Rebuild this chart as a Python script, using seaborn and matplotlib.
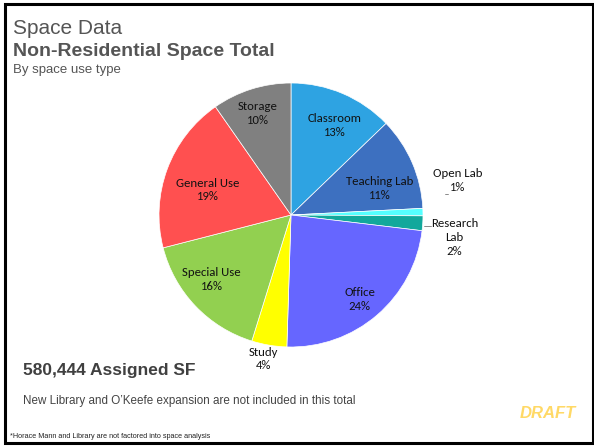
import matplotlib
matplotlib.use("Agg")
import matplotlib.pyplot as plt
import seaborn as sns
from matplotlib.patches import Rectangle

sns.set_theme(style="white")
plt.rcParams['font.family'] = ['Liberation Sans', 'DejaVu Sans']

# data (share of assigned SF, %)
categories = ["Classroom", "Teaching Lab", "Open Lab", "Research\nLab", "Office",
              "Study", "Special Use", "General Use", "Storage"]
shares = [12.8, 11.4, 0.9, 1.8, 23.6, 4.3, 16.2, 19.3, 9.7]
pct_labels = ["13%", "11%", "1%", "2%", "24%", "4%", "16%", "19%", "10%"]
colors = ["#2ea3e2", "#3d70c0", "#55ffff", "#12a89c", "#6666ff",
          "#ffff00", "#92d050", "#ff5050", "#808080"]

fig = plt.figure(figsize=(5.94, 4.46), dpi=100)
fig.patch.set_facecolor("white")

# frame
fig.add_artist(Rectangle((0.008, 0.006), 0.99, 0.984, transform=fig.transFigure,
                         fill=False, edgecolor="black", linewidth=2.2))

ax = fig.add_axes([(291 - 132) / 594, (446 - 215 - 132) / 446, 264 / 594, 264 / 446])
wedges, _ = ax.pie(shares, colors=colors, startangle=90, counterclock=False,
                   wedgeprops=dict(edgecolor="white", linewidth=0.5))
ax.set_aspect("equal")

# label positions (in data units, radius = 1)
label_pos = {
    "Classroom": (0.33, 0.68),
    "Teaching Lab": (0.67, 0.20),
    "Open Lab": (1.26, 0.26),
    "Research\nLab": (1.24, -0.17),
    "Office": (0.52, -0.64),
    "Study": (-0.21, -1.09),
    "Special Use": (-0.60, -0.49),
    "General Use": (-0.63, 0.19),
    "Storage": (-0.25, 0.77),
}
for cat, pct in zip(categories, pct_labels):
    x, y = label_pos[cat]
    ax.text(x, y, f"{cat}\n{pct}", ha="center", va="center", fontsize=9.2,
            family=['Carlito', 'Liberation Sans', 'DejaVu Sans'], color="#111111",
            linespacing=1.3)

# small leader lines for the thin slices
ax.plot([1.165, 1.19], [0.16, 0.16], color="#777777", lw=0.6, clip_on=False)
ax.plot([1.005, 1.06], [-0.083, -0.083], color="#777777", lw=0.6, clip_on=False)
ax.set_xlim(-1.0, 1.0)
ax.set_ylim(-1.0, 1.0)
ax.axis("off")

gray = "#555555"
fig.text(13 / 594, 1 - 28 / 446, "Space Data", fontsize=15, color=gray, va="center")
fig.text(13 / 594, 1 - 52 / 446, "Non-Residential Space Total", fontsize=14,
         fontweight="bold", color=gray, va="center")
fig.text(13 / 594, 1 - 70 / 446, "By space use type", fontsize=9.5, color=gray, va="center")
fig.text(23 / 594, 1 - 371 / 446, "580,444 Assigned SF", fontsize=12.5,
         fontweight="bold", color="#404040", va="center")
fig.text(23 / 594, 1 - 401 / 446, "New Library and O\u2019Keefe expansion are not included in this total",
         fontsize=8.4, color="#444444", va="center")
fig.text(576 / 594, 1 - 413 / 446, "DRAFT", fontsize=12, fontweight="bold",
         fontstyle="italic", color="#ffd966", ha="right", va="center")
fig.text(10 / 594, 1 - 436 / 446, "*Horace Mann and Library are not factored into space analysis",
         fontsize=5.2, color="#222222", va="center")

fig.savefig("out.png", dpi=100, facecolor="white")
